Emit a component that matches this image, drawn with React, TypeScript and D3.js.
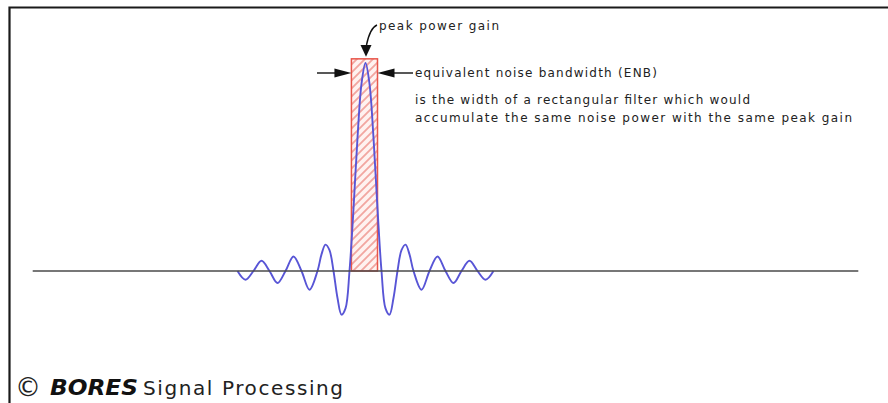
import React from "react";
import * as d3 from "d3";

// frequency offset in bins, and normalised amplitude
const bins = [
  -8, -7.5, -7, -6.5, -6, -5.5, -5, -4.5, -4, -3.5, -3, -2.75, -2.5, -2.25, -2,
  -1.75, -1.5, -1.25, -1, -0.75, -0.5, -0.25, 0, 0.25, 0.5, 0.75, 1, 1.25, 1.5,
  1.75, 2, 2.25, 2.5, 2.75, 3, 3.5, 4, 4.5, 5, 5.5, 6, 6.5, 7, 7.5, 8,
];
const gain = [
  0, -0.042, 0, 0.049, 0, -0.058, 0, 0.07, 0, -0.09, 0, 0.08, 0.127, 0.1, 0,
  -0.13, -0.21, -0.18, 0, 0.3, 0.64, 0.9, 1, 0.9, 0.64, 0.3, 0, -0.18, -0.21,
  -0.13, 0, 0.1, 0.127, 0.08, 0, -0.09, 0, 0.07, 0, -0.058, 0, 0.049, 0, -0.042, 0,
];

// equivalent noise bandwidth rectangle (bins) and its height
const enbBins = [-0.88, 0.75];
const enbHeight = 1.02;

// extent of the zero line, in bins
const axisBins = [-20.8, 30.8];

const peakLabel = "peak power gain";
const enbLabel = "equivalent noise bandwidth (ENB)";
const noteLines = [
  "is the width of a rectangular filter which would",
  "accumulate the same noise power with the same peak gain",
];
const noteWidths = [335, 437];

const W = 888;
const H = 403;

export default function App() {
  const x = d3.scaleLinear().domain([-8, 8]).range([237.5, 493.5]);
  const y = d3.scaleLinear().domain([0, 1]).range([271, 63]);

  const pts: [number, number][] = bins.map((b, i) => [b, gain[i]]);
  const line = d3
    .line<[number, number]>()
    .x((d) => x(d[0]))
    .y((d) => y(d[1]))
    .curve(d3.curveCatmullRom.alpha(0.5));

  const rx0 = x(enbBins[0]);
  const rx1 = x(enbBins[1]);
  const rTop = y(enbHeight);
  const ay = 73;
  const cx = x(0);

  const font = "'DejaVu Sans', Verdana, sans-serif";

  return (
    <svg
      width={W}
      height={H}
      style={{ position: "absolute", left: 0, top: 0, display: "block", background: "#fff" }}
    >
      <defs>
        <pattern id="hatch" patternUnits="userSpaceOnUse" width="8" height="8">
          <rect width="8" height="8" fill="#fff2f0" />
          <path d="M-2,2 L2,-2 M0,8 L8,0 M6,10 L10,6" stroke="#f2a6a0" strokeWidth="1.8" />
        </pattern>
      </defs>

      {/* frame */}
      <path d={`M9.5,${H} L9.5,7.5 L${W},7.5`} fill="none" stroke="#1a1a1a" strokeWidth="2.2" />

      {/* ENB rectangle */}
      <rect
        x={rx0}
        y={rTop}
        width={rx1 - rx0}
        height={y(0) - rTop}
        fill="url(#hatch)"
        stroke="#e8554a"
        strokeWidth="1.5"
      />

      {/* filter response */}
      <path d={line(pts) || ""} fill="none" stroke="#5855d6" strokeWidth="1.9" />

      {/* zero line */}
      <line x1={x(axisBins[0])} x2={x(axisBins[1])} y1={y(0)} y2={y(0)} stroke="#4a4a4a" strokeWidth="1.5" />

      {/* peak arrow */}
      <path d={`M377,25 Q370,28 ${cx + 1},45`} fill="none" stroke="#111" strokeWidth="1.4" />
      <path d={`M${cx - 5},45 L${cx + 6},45 L${cx + 0.5},${rTop - 2} Z`} fill="#111" />

      {/* ENB arrows */}
      <line x1={317} x2={rx0 - 14} y1={ay} y2={ay} stroke="#111" strokeWidth="1.4" />
      <path d={`M${rx0 - 17},${ay - 4.5} L${rx0},${ay} L${rx0 - 17},${ay + 4.5} Z`} fill="#111" />
      <line x1={rx1 + 14} x2={413} y1={ay} y2={ay} stroke="#111" strokeWidth="1.4" />
      <path d={`M${rx1 + 17},${ay - 4.5} L${rx1},${ay} L${rx1 + 17},${ay + 4.5} Z`} fill="#111" />

      <g fontFamily={font} fontSize="12" fill="#222">
        <text x={379} y={30} textLength={120} lengthAdjust="spacing">{peakLabel}</text>
        <text x={415} y={77} textLength={242} lengthAdjust="spacing">{enbLabel}</text>
        {noteLines.map((t, i) => (
          <text key={i} x={415} y={104 + i * 18} textLength={noteWidths[i]} lengthAdjust="spacing">
            {t}
          </text>
        ))}
      </g>

      {/* footer */}
      <g fontFamily={font} fill="#222">
        <text x={15} y={396} fontSize="26">©</text>
        <text x={50} y={395} fontSize="22" fontWeight="bold" fontStyle="italic" textLength={88} lengthAdjust="spacingAndGlyphs" fill="#111">
          BORES
        </text>
        <text x={143} y={395} fontSize="20" textLength={200} lengthAdjust="spacing">
          Signal Processing
        </text>
      </g>
    </svg>
  );
}
